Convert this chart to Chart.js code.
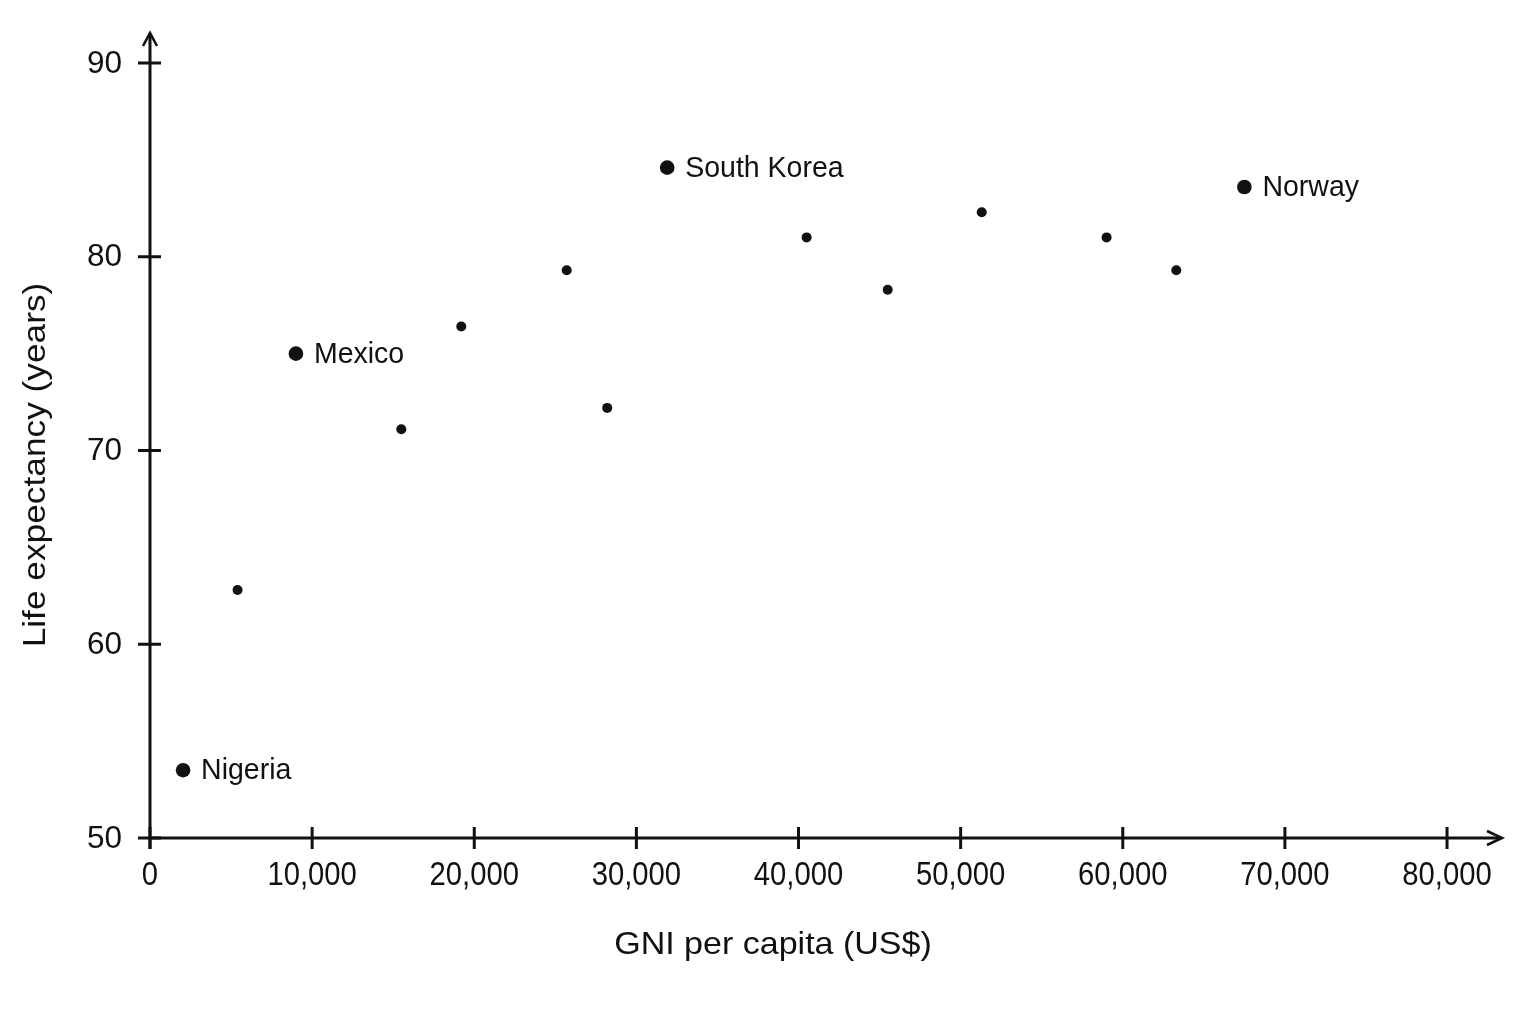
<!DOCTYPE html>
<html>
<head>
<meta charset="utf-8">
<script src="https://cdn.jsdelivr.net/npm/chart.js@4/dist/chart.umd.min.js"></script>
<style>
html,body{margin:0;padding:0;background:#fff;}
#wrap{width:1536px;height:1024px;}
</style>
</head>
<body>
<div id="wrap"><canvas id="c" width="1536" height="1024"></canvas></div>
<script>
// Data
const gni = [2040, 5400, 9000, 15500, 19200, 25700, 28200, 31900, 40500, 45500, 51300, 59000, 63300, 67500];
const lifeExp = [53.5, 62.8, 75.0, 71.1, 76.4, 79.3, 72.2, 84.6, 81.0, 78.3, 82.3, 81.0, 79.3, 83.6];
const countryNames = ["Nigeria", "", "Mexico", "", "", "", "", "South Korea", "", "", "", "", "", "Norway"];
const xTicks = [0, 10000, 20000, 30000, 40000, 50000, 60000, 70000, 80000];
const yTicks = [50, 60, 70, 80, 90];
const xTitle = "GNI per capita (US$)";
const yTitle = "Life expectancy (years)";

const INK = '#111';
const FONT = '"Liberation Sans", Arial, sans-serif';

const points = gni.map((x, i) => ({x: x, y: lifeExp[i]}));

function drawText(ctx, text, x, y, size, sx, align, rot) {
  ctx.save();
  ctx.translate(x, y);
  if (rot) ctx.rotate(rot);
  ctx.scale(sx, 1);
  ctx.font = size + 'px ' + FONT;
  ctx.textAlign = align;
  ctx.textBaseline = 'middle';
  ctx.fillText(text, 0, 0);
  ctx.restore();
}

const axesPlugin = {
  id: 'axesPlugin',
  afterDraw(chart) {
    const ctx = chart.ctx;
    const xs = chart.scales.x, ys = chart.scales.y;
    const x0 = xs.getPixelForValue(0), y0 = ys.getPixelForValue(50);
    const xEnd = xs.right, yEnd = ys.top;
    ctx.save();
    ctx.strokeStyle = INK;
    ctx.fillStyle = INK;
    ctx.lineWidth = 3;
    ctx.lineCap = 'butt';
    ctx.lineJoin = 'miter';
    // axes
    ctx.beginPath();
    ctx.moveTo(x0, y0); ctx.lineTo(xEnd - 1, y0);
    ctx.moveTo(x0, y0 + 11); ctx.lineTo(x0, yEnd + 1);
    ctx.stroke();
    // arrows
    ctx.lineWidth = 2.6;
    ctx.beginPath();
    ctx.moveTo(xEnd - 15, y0 - 7); ctx.lineTo(xEnd, y0); ctx.lineTo(xEnd - 15, y0 + 7);
    ctx.moveTo(x0 - 7, yEnd + 13); ctx.lineTo(x0, yEnd); ctx.lineTo(x0 + 7, yEnd + 13);
    ctx.stroke();
    // tick marks
    ctx.lineWidth = 3;
    ctx.beginPath();
    xTicks.forEach(v => {
      const px = xs.getPixelForValue(v);
      ctx.moveTo(px, y0 - 11); ctx.lineTo(px, y0 + 11);
    });
    yTicks.forEach(v => {
      const py = ys.getPixelForValue(v);
      ctx.moveTo(x0 - 12, py); ctx.lineTo(x0 + 11, py);
    });
    ctx.stroke();
    // tick labels
    xTicks.forEach(v => {
      drawText(ctx, v.toLocaleString('en-US'), xs.getPixelForValue(v), y0 + 38, 34, 0.86, 'center');
    });
    yTicks.forEach(v => {
      drawText(ctx, String(v), x0 - 28, ys.getPixelForValue(v) + 1, 31.5, 1, 'right');
    });
    // point labels
    const meta = chart.getDatasetMeta(0);
    meta.data.forEach((el, i) => {
      if (countryNames[i]) drawText(ctx, countryNames[i], el.x + 18, el.y + 1, 30, 0.95, 'left');
    });
    // axis titles
    drawText(ctx, xTitle, 773, 945, 31.5, 1.08, 'center');
    drawText(ctx, yTitle, 36, 465, 31.5, 1.12, 'center', -Math.PI / 2);
    ctx.restore();
  }
};

new Chart(document.getElementById('c'), {
  type: 'scatter',
  data: {
    datasets: [{
      data: points,
      backgroundColor: INK,
      borderColor: INK,
      borderWidth: 0,
      pointRadius: countryNames.map(n => n ? 7.3 : 5),
      pointHoverRadius: countryNames.map(n => n ? 7.3 : 5)
    }]
  },
  options: {
    responsive: false,
    animation: false,
    devicePixelRatio: 1,
    layout: {padding: {top: 33, right: 34, left: 0, bottom: 0}},
    plugins: {legend: {display: false}, tooltip: {enabled: false}},
    scales: {
      x: {
        type: 'linear',
        min: 0,
        max: 83390,
        afterFit(s) { s.height = 186; },
        afterBuildTicks(s) { s.ticks = xTicks.map(v => ({value: v})); },
        grid: {display: false, drawTicks: false},
        border: {display: false},
        ticks: {display: false}
      },
      y: {
        type: 'linear',
        min: 50,
        max: 91.55,
        afterFit(s) { s.width = 150; },
        afterBuildTicks(s) { s.ticks = yTicks.map(v => ({value: v})); },
        grid: {display: false, drawTicks: false},
        border: {display: false},
        ticks: {display: false}
      }
    }
  },
  plugins: [axesPlugin]
});
</script>
</body>
</html>
